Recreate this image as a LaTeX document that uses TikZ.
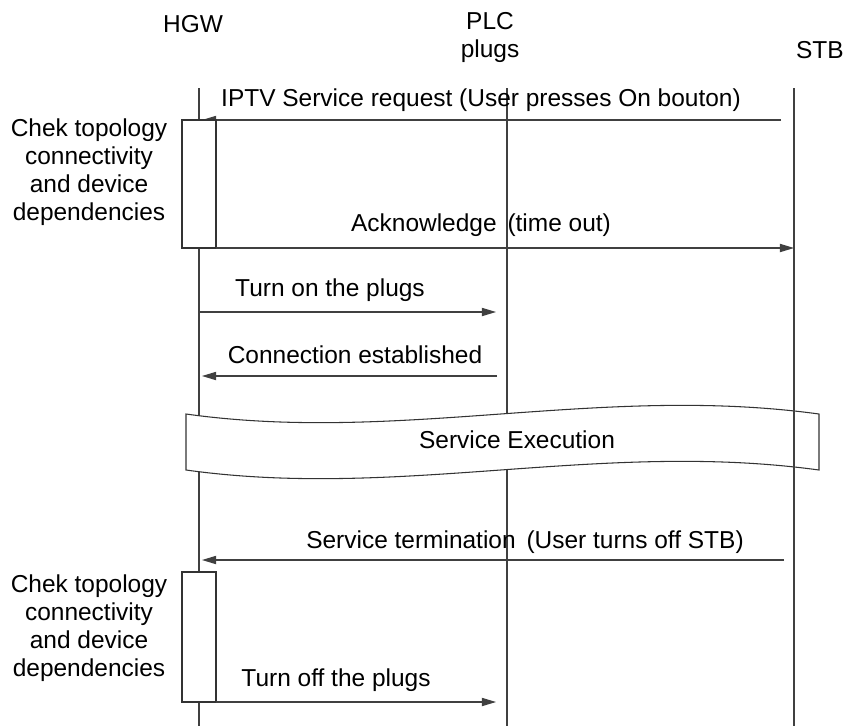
\documentclass[tikz,border=0pt]{standalone}
\usepackage{fontspec}
\setmainfont{Liberation Sans}
\usetikzlibrary{arrows.meta, positioning}

\begin{document}
\begin{tikzpicture}[x=0.85pt, y=-0.85pt,
  font=\fontsize{20.8}{23.8}\selectfont,
  life/.style={line width=0.9pt, draw=black!75},
  msg/.style={-{Triangle[length=12pt, width=7pt]}, line width=0.9pt, draw=black!75},
  act/.style={line width=0.9pt, draw=black!80, fill=white},
  banner/.style={line width=0.9pt, draw=black!80, fill=white}]
  \useasboundingbox (0,0) rectangle (845,726);

  % lifelines
  \node (hgw) at (193,24) {HGW};
  \node[align=center] (plc) at (490,37) {PLC\\plugs};
  \node[anchor=east, inner sep=1pt] (stb) at (845,50) {STB};
  \coordinate (hgwT) at (199,88);  \coordinate (hgwB) at (199,726);
  \coordinate (plcT) at (507,88);  \coordinate (plcB) at (507,726);
  \coordinate (stbT) at (794,88);  \coordinate (stbB) at (794,726);
  \draw[life] (hgwT) -- (hgwB);
  \draw[life] (plcT) -- (plcB);

  % request, check, acknowledge
  \coordinate (req0) at (781,120); \coordinate (req1) at (202,120);
  \draw[msg] (req0) -- (req1);
  \node (reqL) at (481,100) {IPTV Service request (User presses On bouton)};
  \coordinate (act1a) at (182,120); \coordinate (act1b) at (216,248);
  \draw[act] (act1a) rectangle (act1b);
  \node[align=center] (chk1) at (89,172)
    {Chek topology\\connectivity\\and device\\dependencies};
  \coordinate (ack0) at (216,248); \coordinate (ack1) at (794,248);
  \draw[msg] (ack0) -- (ack1);
  \node (ackL) at (481,225) {Acknowledge\ \,(time out)};

  % plugs on
  \coordinate (on0) at (199,312); \coordinate (on1) at (496,312);
  \draw[msg] (on0) -- (on1);
  \node (onL) at (330,290) {Turn on the plugs};
  \coordinate (con0) at (497,376); \coordinate (con1) at (202,376);
  \draw[msg] (con0) -- (con1);
  \node (conL) at (355,355) {Connection established};

  % service execution
  \draw[banner] (186,414) .. controls (400,444) and (600,384) .. (819,414)
    -- (819,470) .. controls (600,440) and (400,500) .. (186,470) -- cycle;
  \node (exec) at (517,440) {Service Execution};
  \draw[life] (stbT) -- (stbB);

  % termination, plugs off
  \coordinate (term0) at (784,560); \coordinate (term1) at (202,560);
  \draw[msg] (term0) -- (term1);
  \node (termL) at (525,542) {Service termination\ \,(User turns off STB)};
  \coordinate (act2a) at (182,572); \coordinate (act2b) at (216,702);
  \draw[act] (act2a) rectangle (act2b);
  \node[align=center] (chk2) at (89,628)
    {Chek topology\\connectivity\\and device\\dependencies};
  \coordinate (off0) at (216,702); \coordinate (off1) at (496,702);
  \draw[msg] (off0) -- (off1);
  \node (offL) at (336,680) {Turn off the plugs};
\end{tikzpicture}
\end{document}
